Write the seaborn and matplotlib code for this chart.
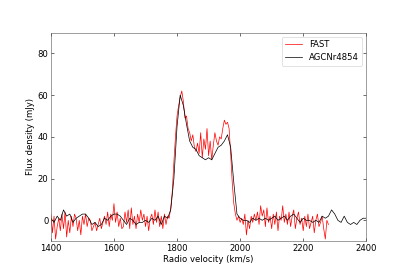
import numpy as np
import pandas as pd
import matplotlib
matplotlib.use("Agg")
import matplotlib.pyplot as plt
import seaborn as sns

# channel grids (km/s)
fast_start, fast_step = 1400, 5
agc_start, agc_step = 1400, 10

# FAST spectrum (mJy), 5 km/s channels from 1400 km/s
fast_flux = [
    3, -6, 2, -9, -3, 1, -5, 3, -4, 4,          # 1400-1445
    -8, 0, -6, 2, -3, 3, 1, -5, 0, -7,          # 1450-1495
    2, -2, 3, -3, 1, 0, -5, -3, -1, -5,         # 1500-1545
    -2, 1, -4, -1, 2, -2, 4, -3, 3, 0,          # 1550-1595
    8, -1, 4, -3, 1, -4, -3, 4, -1, 5,          # 1600-1645
    -4, 6, -2, 2, -4, 3, -1, 5, 0, 3,           # 1650-1695
    -3, 2, -5, 1, 3, -2, 5, -1, 4, -3,          # 1700-1745
    2, -4, 3, -2, 2, 1, 6, 14, 28, 40,          # 1750-1795
    50, 55, 59, 62, 57, 49, 50, 44, 42, 38,     # 1800-1845
    41, 35, 33, 37, 32, 42, 30, 39, 34, 44,     # 1850-1895
    31, 38, 29, 36, 42, 38, 36, 40, 39, 44,     # 1900-1945
    48, 46, 47, 44, 32, 18, 8, 3, 0, 2,         # 1950-1995
    -1, 1, -2, 3, -7, 0, -4, 2, -1, 3,          # 2000-2045
    0, 4, -2, 7, 2, 5, -3, 6, -1, 2,            # 2050-2095
    -4, 3, -2, 4, -5, 2, 0, 7, -1, 3,           # 2100-2145
    -2, 4, -3, 2, 5, -4, 1, 4, -2, 1,           # 2150-2195
    -5, 2, -3, 3, -4, -1, 2, -6, 0, 3,          # 2200-2245
    -3, -1, 2, -4, -9, 0, -2,                   # 2250-2280
]

# AGCNr4854 spectrum (mJy), 10 km/s channels from 1400 km/s
agc_flux = [
    1, -1, 2, 0, 5, 2, 3, -1, 1, 2,             # 1400-1490
    3, 3, 1, -2, -1, -3, -2, 1, 0, 2,           # 1500-1590
    3, 3, 2, 0, -2, 1, 0, -2, -1, -1,           # 1600-1690
    0, -1, 1, 0, 2, -2, 2, 1, 5, 20,            # 1700-1790
    45, 60, 55, 46, 38, 35, 34, 31, 30, 29,     # 1800-1890
    30, 29, 32, 35, 36, 38, 41, 35, 18, 3,      # 1900-1990
    1, 0, 0, -1, 1, 0, 1, 0, 1, 0,              # 2000-2090
    1, 2, 0, 1, 2, 0, 2, 3, 1, -1,              # 2100-2190
    1, 0, 0, -1, 0, -1, 2, 1, 2, 5,             # 2200-2290
    3, 0, -1, 2, -1, -2, -1, -2, 0, 1,          # 2300-2390
    1,                                          # 2400
]

fast = pd.DataFrame({
    "velocity": fast_start + fast_step * np.arange(len(fast_flux)),
    "flux": fast_flux,
})
agc = pd.DataFrame({
    "velocity": agc_start + agc_step * np.arange(len(agc_flux)),
    "flux": agc_flux,
})

dpi = 50.875
fig, ax = plt.subplots(figsize=(407 / dpi, 271 / dpi), dpi=dpi)
fig.subplots_adjust(left=0.125, right=0.9, bottom=0.11, top=0.88)

sns.lineplot(data=fast, x="velocity", y="flux", color="red", lw=1.0, ax=ax, label="FAST")
sns.lineplot(data=agc, x="velocity", y="flux", color="black", lw=1.0, ax=ax, label="AGCNr4854")

ax.set_xlim(1400, 2400)
ax.set_ylim(-10, 90)
ax.set_xticks([1400, 1600, 1800, 2000, 2200, 2400])
ax.set_yticks([0, 20, 40, 60, 80])
ax.tick_params(direction="in", top=True, right=True, length=4, labelsize=12)
ax.set_xlabel("Radio velocity (km/s)", fontsize=12)
ax.set_ylabel("Flux density (mJy)", fontsize=12)
for s in ax.spines.values():
    s.set_color("#555555")

ax.legend(loc="upper right", fontsize=12, handlelength=2, frameon=True)

fig.savefig("out.png", dpi=dpi)
